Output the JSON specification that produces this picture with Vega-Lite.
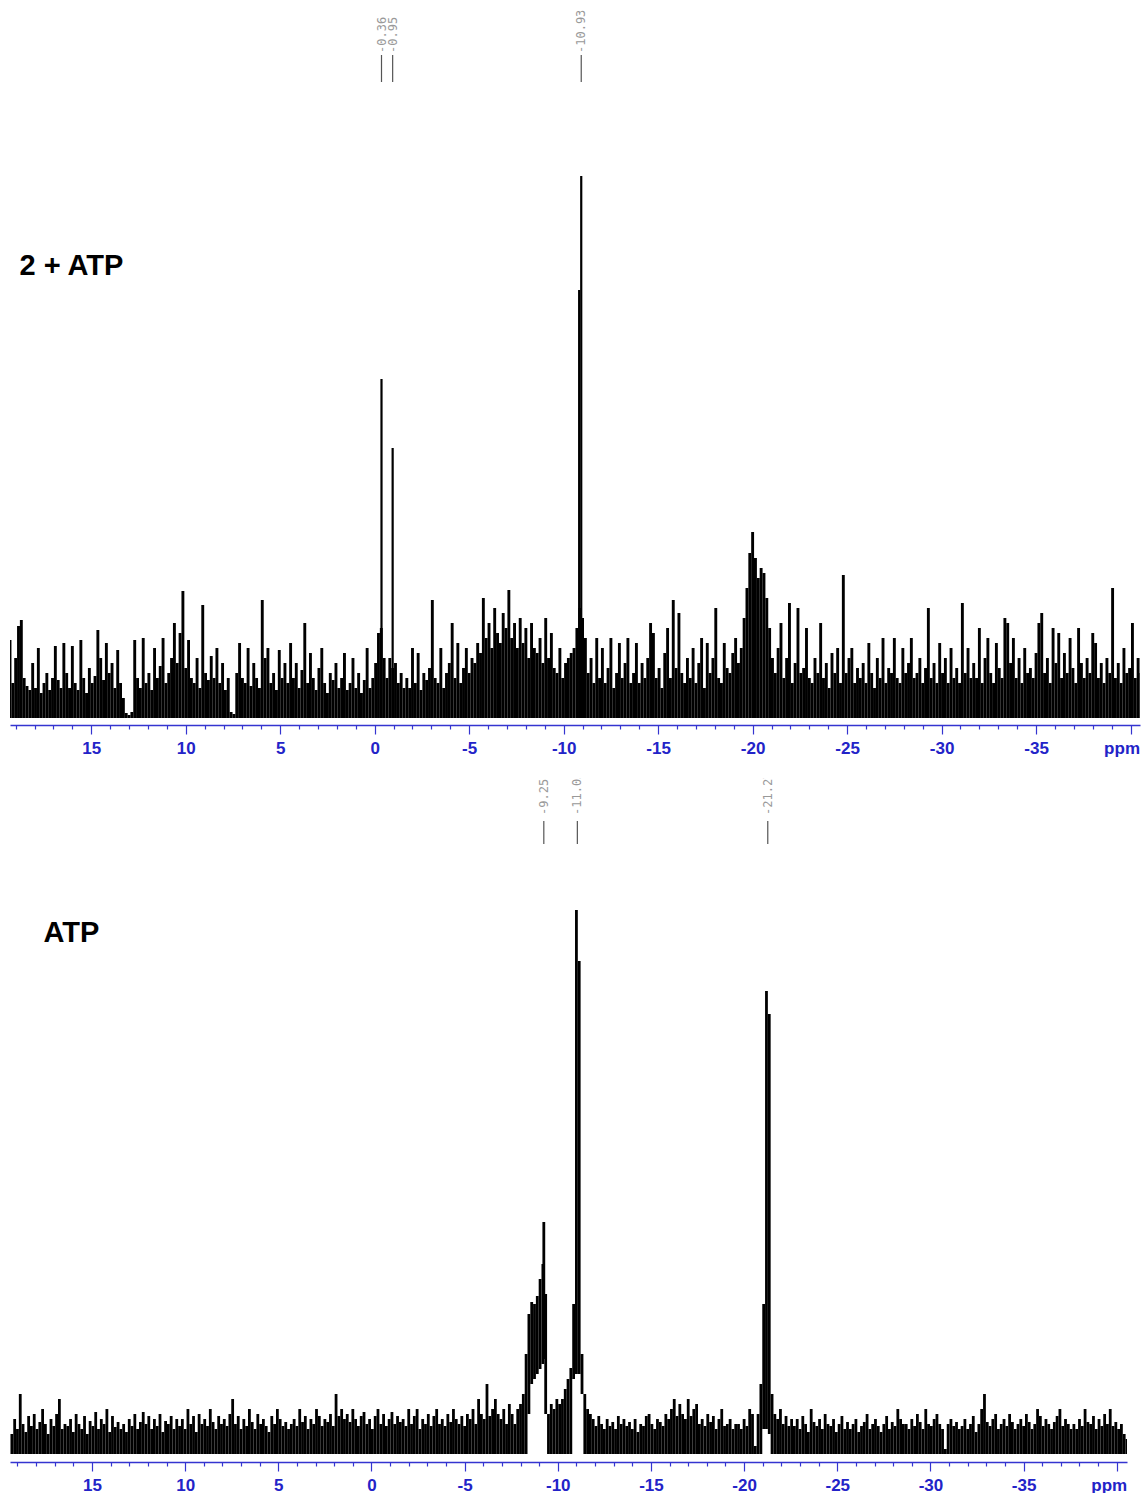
{
"$schema": "https://vega.github.io/schema/vega-lite/v6.json",
"background": "white",
"padding": {"left": 10, "top": 5, "right": 6, "bottom": 0},
"spacing": 22,
"config": {"view": {"stroke": null}},
"datasets": {
"spec": [
{"ppm":19.3,"a":78,"b":20},{"ppm":19.15,"a":35,"b":35},{"ppm":19,"a":60,"b":25},{"ppm":18.85,"a":92,"b":60},{"ppm":18.7,"a":98,"b":30},{"ppm":18.55,"a":40,"b":22},{"ppm":18.4,"a":32,"b":38},{"ppm":18.25,"a":28,"b":28},{"ppm":18.1,"a":55,"b":40},{"ppm":17.95,"a":30,"b":25},{"ppm":17.8,"a":70,"b":32},{"ppm":17.65,"a":25,"b":45},{"ppm":17.5,"a":35,"b":30},{"ppm":17.35,"a":45,"b":20},{"ppm":17.2,"a":28,"b":35},{"ppm":17.05,"a":40,"b":28},{"ppm":16.9,"a":72,"b":40},{"ppm":16.75,"a":38,"b":55},{"ppm":16.6,"a":30,"b":25},{"ppm":16.45,"a":75,"b":30},
{"ppm":16.3,"a":45,"b":28},{"ppm":16.15,"a":30,"b":35},{"ppm":16,"a":72,"b":22},{"ppm":15.85,"a":35,"b":40},{"ppm":15.7,"a":28,"b":30},{"ppm":15.55,"a":78,"b":25},{"ppm":15.4,"a":40,"b":38},{"ppm":15.25,"a":25,"b":20},{"ppm":15.1,"a":50,"b":33},{"ppm":14.95,"a":35,"b":28},{"ppm":14.8,"a":42,"b":42},{"ppm":14.65,"a":88,"b":25},{"ppm":14.5,"a":60,"b":35},{"ppm":14.35,"a":38,"b":30},{"ppm":14.2,"a":75,"b":45},{"ppm":14.05,"a":45,"b":22},{"ppm":13.9,"a":55,"b":38},{"ppm":13.75,"a":30,"b":27},{"ppm":13.6,"a":68,"b":32},{"ppm":13.45,"a":35,"b":25},
{"ppm":13.3,"a":20,"b":30},{"ppm":13.15,"a":5,"b":22},{"ppm":13,"a":3,"b":35},{"ppm":12.85,"a":6,"b":28},{"ppm":12.7,"a":78,"b":40},{"ppm":12.55,"a":40,"b":25},{"ppm":12.4,"a":30,"b":32},{"ppm":12.25,"a":80,"b":42},{"ppm":12.1,"a":35,"b":30},{"ppm":11.95,"a":45,"b":38},{"ppm":11.8,"a":28,"b":25},{"ppm":11.65,"a":70,"b":35},{"ppm":11.5,"a":40,"b":28},{"ppm":11.35,"a":52,"b":40},{"ppm":11.2,"a":80,"b":22},{"ppm":11.05,"a":35,"b":33},{"ppm":10.9,"a":45,"b":30},{"ppm":10.75,"a":60,"b":38},{"ppm":10.6,"a":95,"b":25},{"ppm":10.45,"a":55,"b":35},
{"ppm":10.3,"a":85,"b":28},{"ppm":10.15,"a":127,"b":35},{"ppm":10,"a":50,"b":25},{"ppm":9.85,"a":78,"b":45},{"ppm":9.7,"a":40,"b":30},{"ppm":9.55,"a":35,"b":38},{"ppm":9.4,"a":60,"b":22},{"ppm":9.25,"a":30,"b":40},{"ppm":9.1,"a":113,"b":30},{"ppm":8.95,"a":45,"b":35},{"ppm":8.8,"a":38,"b":28},{"ppm":8.65,"a":62,"b":45},{"ppm":8.5,"a":40,"b":32},{"ppm":8.35,"a":70,"b":25},{"ppm":8.2,"a":35,"b":38},{"ppm":8.05,"a":55,"b":30},{"ppm":7.9,"a":28,"b":35},{"ppm":7.75,"a":40,"b":28},{"ppm":7.6,"a":6,"b":40},{"ppm":7.45,"a":4,"b":55},
{"ppm":7.3,"a":45,"b":30},{"ppm":7.15,"a":75,"b":38},{"ppm":7,"a":40,"b":25},{"ppm":6.85,"a":35,"b":35},{"ppm":6.7,"a":70,"b":28},{"ppm":6.55,"a":32,"b":45},{"ppm":6.4,"a":55,"b":32},{"ppm":6.25,"a":40,"b":25},{"ppm":6.1,"a":30,"b":40},{"ppm":5.95,"a":118,"b":30},{"ppm":5.8,"a":60,"b":35},{"ppm":5.65,"a":70,"b":28},{"ppm":5.5,"a":35,"b":22},{"ppm":5.35,"a":45,"b":38},{"ppm":5.2,"a":28,"b":30},{"ppm":5.05,"a":68,"b":45},{"ppm":4.9,"a":40,"b":35},{"ppm":4.75,"a":55,"b":28},{"ppm":4.6,"a":35,"b":32},{"ppm":4.45,"a":75,"b":25},
{"ppm":4.3,"a":40,"b":30},{"ppm":4.15,"a":55,"b":35},{"ppm":4,"a":30,"b":28},{"ppm":3.85,"a":48,"b":45},{"ppm":3.7,"a":95,"b":32},{"ppm":3.55,"a":35,"b":38},{"ppm":3.4,"a":65,"b":25},{"ppm":3.25,"a":40,"b":35},{"ppm":3.1,"a":28,"b":30},{"ppm":2.95,"a":50,"b":45},{"ppm":2.8,"a":70,"b":38},{"ppm":2.65,"a":35,"b":28},{"ppm":2.5,"a":25,"b":35},{"ppm":2.35,"a":45,"b":32},{"ppm":2.2,"a":38,"b":40},{"ppm":2.05,"a":55,"b":28},{"ppm":1.9,"a":30,"b":60},{"ppm":1.75,"a":40,"b":38},{"ppm":1.6,"a":65,"b":45},{"ppm":1.45,"a":28,"b":35},
{"ppm":1.3,"a":35,"b":40},{"ppm":1.15,"a":60,"b":32},{"ppm":1,"a":30,"b":45},{"ppm":0.85,"a":45,"b":35},{"ppm":0.7,"a":25,"b":28},{"ppm":0.55,"a":38,"b":38},{"ppm":0.4,"a":70,"b":42},{"ppm":0.25,"a":30,"b":30},{"ppm":0.1,"a":40,"b":35},{"ppm":-0.05,"a":55,"b":25},{"ppm":-0.2,"a":85,"b":38},{"ppm":-0.35,"a":90,"b":45},{"ppm":-0.5,"a":60,"b":30},{"ppm":-0.65,"a":40,"b":40},{"ppm":-0.8,"a":60,"b":28},{"ppm":-0.95,"a":50,"b":35},{"ppm":-1.1,"a":55,"b":42},{"ppm":-1.25,"a":35,"b":30},{"ppm":-1.4,"a":45,"b":38},{"ppm":-1.55,"a":30,"b":32},
{"ppm":-1.7,"a":40,"b":35},{"ppm":-1.85,"a":30,"b":28},{"ppm":-2,"a":70,"b":45},{"ppm":-2.15,"a":35,"b":30},{"ppm":-2.3,"a":65,"b":38},{"ppm":-2.45,"a":28,"b":45},{"ppm":-2.6,"a":45,"b":25},{"ppm":-2.75,"a":38,"b":35},{"ppm":-2.9,"a":50,"b":30},{"ppm":-3.05,"a":118,"b":40},{"ppm":-3.2,"a":40,"b":28},{"ppm":-3.35,"a":35,"b":38},{"ppm":-3.5,"a":70,"b":45},{"ppm":-3.65,"a":30,"b":30},{"ppm":-3.8,"a":45,"b":35},{"ppm":-3.95,"a":55,"b":28},{"ppm":-4.1,"a":95,"b":40},{"ppm":-4.25,"a":40,"b":32},{"ppm":-4.4,"a":75,"b":45},{"ppm":-4.55,"a":35,"b":35},
{"ppm":-4.7,"a":50,"b":30},{"ppm":-4.85,"a":70,"b":38},{"ppm":-5,"a":45,"b":28},{"ppm":-5.15,"a":60,"b":40},{"ppm":-5.3,"a":55,"b":35},{"ppm":-5.45,"a":75,"b":45},{"ppm":-5.6,"a":65,"b":30},{"ppm":-5.75,"a":120,"b":55},{"ppm":-5.9,"a":80,"b":40},{"ppm":-6.05,"a":95,"b":35},{"ppm":-6.2,"a":70,"b":70},{"ppm":-6.35,"a":110,"b":38},{"ppm":-6.5,"a":85,"b":45},{"ppm":-6.65,"a":75,"b":55},{"ppm":-6.8,"a":105,"b":40},{"ppm":-6.95,"a":90,"b":35},{"ppm":-7.1,"a":128,"b":45},{"ppm":-7.25,"a":80,"b":30},{"ppm":-7.4,"a":95,"b":50},{"ppm":-7.55,"a":70,"b":40},
{"ppm":-7.7,"a":100,"b":30},{"ppm":-7.85,"a":75,"b":45},{"ppm":-8,"a":90,"b":50},{"ppm":-8.15,"a":60,"b":60},{"ppm":-8.3,"a":95,"b":null},{"ppm":-8.45,"a":70,"b":null},{"ppm":-8.6,"a":65,"b":null},{"ppm":-8.75,"a":80,"b":null},{"ppm":-8.9,"a":55,"b":null},{"ppm":-9.05,"a":100,"b":null},{"ppm":-9.2,"a":60,"b":null},{"ppm":-9.35,"a":85,"b":null},{"ppm":-9.5,"a":50,"b":null},{"ppm":-9.65,"a":45,"b":50},{"ppm":-9.8,"a":70,"b":45},{"ppm":-9.95,"a":40,"b":55},{"ppm":-10.1,"a":55,"b":50},{"ppm":-10.25,"a":60,"b":55},{"ppm":-10.4,"a":65,"b":65},{"ppm":-10.55,"a":70,"b":75},
{"ppm":-10.7,"a":90,"b":null},{"ppm":-10.85,"a":110,"b":null},{"ppm":-11,"a":100,"b":null},{"ppm":-11.15,"a":80,"b":null},{"ppm":-11.3,"a":45,"b":null},{"ppm":-11.45,"a":60,"b":null},{"ppm":-11.6,"a":35,"b":45},{"ppm":-11.75,"a":80,"b":40},{"ppm":-11.9,"a":40,"b":35},{"ppm":-12.05,"a":70,"b":28},{"ppm":-12.2,"a":35,"b":38},{"ppm":-12.35,"a":50,"b":30},{"ppm":-12.5,"a":80,"b":25},{"ppm":-12.65,"a":30,"b":35},{"ppm":-12.8,"a":45,"b":28},{"ppm":-12.95,"a":75,"b":32},{"ppm":-13.1,"a":40,"b":25},{"ppm":-13.25,"a":55,"b":38},{"ppm":-13.4,"a":80,"b":30},{"ppm":-13.55,"a":35,"b":35},
{"ppm":-13.7,"a":45,"b":28},{"ppm":-13.85,"a":75,"b":32},{"ppm":-14,"a":35,"b":25},{"ppm":-14.15,"a":55,"b":35},{"ppm":-14.3,"a":40,"b":22},{"ppm":-14.45,"a":60,"b":30},{"ppm":-14.6,"a":95,"b":28},{"ppm":-14.75,"a":85,"b":38},{"ppm":-14.9,"a":40,"b":40},{"ppm":-15.05,"a":50,"b":30},{"ppm":-15.2,"a":30,"b":25},{"ppm":-15.35,"a":65,"b":35},{"ppm":-15.5,"a":90,"b":32},{"ppm":-15.65,"a":40,"b":28},{"ppm":-15.8,"a":118,"b":40},{"ppm":-15.95,"a":50,"b":35},{"ppm":-16.1,"a":105,"b":45},{"ppm":-16.25,"a":45,"b":55},{"ppm":-16.4,"a":35,"b":38},{"ppm":-16.55,"a":60,"b":50},
{"ppm":-16.7,"a":40,"b":40},{"ppm":-16.85,"a":70,"b":35},{"ppm":-17,"a":35,"b":55},{"ppm":-17.15,"a":55,"b":38},{"ppm":-17.3,"a":80,"b":45},{"ppm":-17.45,"a":30,"b":50},{"ppm":-17.6,"a":75,"b":30},{"ppm":-17.75,"a":45,"b":35},{"ppm":-17.9,"a":60,"b":28},{"ppm":-18.05,"a":110,"b":40},{"ppm":-18.2,"a":40,"b":32},{"ppm":-18.35,"a":35,"b":38},{"ppm":-18.5,"a":75,"b":25},{"ppm":-18.65,"a":50,"b":35},{"ppm":-18.8,"a":45,"b":45},{"ppm":-18.95,"a":65,"b":28},{"ppm":-19.1,"a":80,"b":30},{"ppm":-19.25,"a":55,"b":35},{"ppm":-19.4,"a":70,"b":25},{"ppm":-19.55,"a":100,"b":30},
{"ppm":-19.7,"a":130,"b":30},{"ppm":-19.85,"a":165,"b":25},{"ppm":-20,"a":186,"b":35},{"ppm":-20.15,"a":160,"b":28},{"ppm":-20.3,"a":140,"b":45},{"ppm":-20.45,"a":150,"b":40},{"ppm":-20.6,"a":145,"b":8},{"ppm":-20.75,"a":120,"b":40},{"ppm":-20.9,"a":90,"b":null},{"ppm":-21.05,"a":60,"b":null},{"ppm":-21.2,"a":45,"b":null},{"ppm":-21.35,"a":70,"b":null},{"ppm":-21.5,"a":95,"b":null},{"ppm":-21.65,"a":40,"b":40},{"ppm":-21.8,"a":60,"b":35},{"ppm":-21.95,"a":115,"b":45},{"ppm":-22.1,"a":35,"b":30},{"ppm":-22.25,"a":55,"b":38},{"ppm":-22.4,"a":110,"b":28},{"ppm":-22.55,"a":45,"b":35},
{"ppm":-22.7,"a":50,"b":28},{"ppm":-22.85,"a":90,"b":35},{"ppm":-23,"a":40,"b":25},{"ppm":-23.15,"a":35,"b":38},{"ppm":-23.3,"a":60,"b":30},{"ppm":-23.45,"a":45,"b":22},{"ppm":-23.6,"a":95,"b":45},{"ppm":-23.75,"a":40,"b":32},{"ppm":-23.9,"a":55,"b":28},{"ppm":-24.05,"a":30,"b":35},{"ppm":-24.2,"a":65,"b":25},{"ppm":-24.35,"a":45,"b":40},{"ppm":-24.5,"a":70,"b":30},{"ppm":-24.65,"a":35,"b":28},{"ppm":-24.8,"a":143,"b":35},{"ppm":-24.95,"a":45,"b":22},{"ppm":-25.1,"a":60,"b":30},{"ppm":-25.25,"a":70,"b":38},{"ppm":-25.4,"a":35,"b":25},{"ppm":-25.55,"a":50,"b":32},
{"ppm":-25.7,"a":40,"b":25},{"ppm":-25.85,"a":55,"b":30},{"ppm":-26,"a":35,"b":35},{"ppm":-26.15,"a":75,"b":22},{"ppm":-26.3,"a":45,"b":28},{"ppm":-26.45,"a":30,"b":32},{"ppm":-26.6,"a":60,"b":40},{"ppm":-26.75,"a":40,"b":25},{"ppm":-26.9,"a":80,"b":30},{"ppm":-27.05,"a":35,"b":35},{"ppm":-27.2,"a":50,"b":28},{"ppm":-27.35,"a":45,"b":22},{"ppm":-27.5,"a":80,"b":30},{"ppm":-27.65,"a":40,"b":38},{"ppm":-27.8,"a":35,"b":25},{"ppm":-27.95,"a":70,"b":32},{"ppm":-28.1,"a":45,"b":28},{"ppm":-28.25,"a":55,"b":45},{"ppm":-28.4,"a":80,"b":35},{"ppm":-28.55,"a":40,"b":30},
{"ppm":-28.7,"a":45,"b":30},{"ppm":-28.85,"a":60,"b":25},{"ppm":-29,"a":35,"b":35},{"ppm":-29.15,"a":50,"b":28},{"ppm":-29.3,"a":110,"b":40},{"ppm":-29.45,"a":40,"b":32},{"ppm":-29.6,"a":55,"b":25},{"ppm":-29.75,"a":35,"b":45},{"ppm":-29.9,"a":75,"b":30},{"ppm":-30.05,"a":45,"b":28},{"ppm":-30.2,"a":60,"b":35},{"ppm":-30.35,"a":35,"b":40},{"ppm":-30.5,"a":70,"b":30},{"ppm":-30.65,"a":40,"b":25},{"ppm":-30.8,"a":50,"b":5},{"ppm":-30.95,"a":35,"b":30},{"ppm":-31.1,"a":115,"b":35},{"ppm":-31.25,"a":45,"b":28},{"ppm":-31.4,"a":70,"b":32},{"ppm":-31.55,"a":40,"b":25},
{"ppm":-31.7,"a":55,"b":28},{"ppm":-31.85,"a":40,"b":35},{"ppm":-32,"a":90,"b":25},{"ppm":-32.15,"a":35,"b":30},{"ppm":-32.3,"a":60,"b":38},{"ppm":-32.45,"a":80,"b":22},{"ppm":-32.6,"a":45,"b":30},{"ppm":-32.75,"a":35,"b":45},{"ppm":-32.9,"a":75,"b":60},{"ppm":-33.05,"a":50,"b":32},{"ppm":-33.2,"a":40,"b":28},{"ppm":-33.35,"a":100,"b":35},{"ppm":-33.5,"a":95,"b":40},{"ppm":-33.65,"a":55,"b":25},{"ppm":-33.8,"a":80,"b":30},{"ppm":-33.95,"a":40,"b":35},{"ppm":-34.1,"a":60,"b":28},{"ppm":-34.25,"a":35,"b":40},{"ppm":-34.4,"a":70,"b":32},{"ppm":-34.55,"a":45,"b":25},
{"ppm":-34.7,"a":50,"b":30},{"ppm":-34.85,"a":40,"b":35},{"ppm":-35,"a":65,"b":28},{"ppm":-35.15,"a":95,"b":40},{"ppm":-35.3,"a":105,"b":32},{"ppm":-35.45,"a":45,"b":25},{"ppm":-35.6,"a":60,"b":30},{"ppm":-35.75,"a":35,"b":45},{"ppm":-35.9,"a":90,"b":38},{"ppm":-36.05,"a":55,"b":28},{"ppm":-36.2,"a":85,"b":35},{"ppm":-36.35,"a":40,"b":30},{"ppm":-36.5,"a":65,"b":25},{"ppm":-36.65,"a":45,"b":32},{"ppm":-36.8,"a":80,"b":38},{"ppm":-36.95,"a":50,"b":45},{"ppm":-37.1,"a":35,"b":28},{"ppm":-37.25,"a":90,"b":35},{"ppm":-37.4,"a":55,"b":30},{"ppm":-37.55,"a":40,"b":25},
{"ppm":-37.7,"a":60,"b":30},{"ppm":-37.85,"a":45,"b":25},{"ppm":-38,"a":85,"b":35},{"ppm":-38.15,"a":75,"b":28},{"ppm":-38.3,"a":40,"b":45},{"ppm":-38.45,"a":55,"b":32},{"ppm":-38.6,"a":35,"b":30},{"ppm":-38.75,"a":60,"b":38},{"ppm":-38.9,"a":45,"b":25},{"ppm":-39.05,"a":130,"b":35},{"ppm":-39.2,"a":40,"b":28},{"ppm":-39.35,"a":55,"b":40},{"ppm":-39.5,"a":35,"b":30},{"ppm":-39.65,"a":70,"b":45},{"ppm":-39.8,"a":45,"b":28},{"ppm":-39.95,"a":50,"b":32},{"ppm":-40.1,"a":95,"b":25},{"ppm":-40.25,"a":40,"b":30},{"ppm":-40.4,"a":60,"b":20},{"ppm":-40.55,"a":45,"b":15}
],
"peaksA": [
{"ppm":-0.36,"lo":0,"hi":339},{"ppm":-0.95,"lo":0,"hi":270},{"ppm":-10.82,"lo":0,"hi":428},{"ppm":-10.93,"lo":0,"hi":542}
],
"peaksB": [
{"ppm":-8.3,"lo":0,"hi":100},{"ppm":-8.45,"lo":40,"hi":140},{"ppm":-8.6,"lo":70,"hi":152},{"ppm":-8.75,"lo":75,"hi":150},{"ppm":-8.9,"lo":80,"hi":158},{"ppm":-9.05,"lo":85,"hi":175},{"ppm":-9.2,"lo":90,"hi":190},{"ppm":-9.25,"lo":95,"hi":232},{"ppm":-9.35,"lo":40,"hi":160},{"ppm":-9.5,"lo":0,"hi":40},
{"ppm":-10.7,"lo":0,"hi":86},{"ppm":-10.85,"lo":75,"hi":150},{"ppm":-11,"lo":80,"hi":544},{"ppm":-11.15,"lo":80,"hi":493},{"ppm":-11.3,"lo":60,"hi":100},{"ppm":-11.45,"lo":0,"hi":60},
{"ppm":-20.9,"lo":0,"hi":70},{"ppm":-21.05,"lo":25,"hi":150},{"ppm":-21.2,"lo":25,"hi":463},{"ppm":-21.35,"lo":20,"hi":440},{"ppm":-21.5,"lo":0,"hi":60}
],
"labelsA": [
{"ppm":-0.36,"label":"-0.36"},{"ppm":-0.95,"label":"-0.95"},{"ppm":-10.93,"label":"-10.93"}
],
"labelsB": [
{"ppm":-9.25,"label":"-9.25"},{"ppm":-11.05,"label":"-11.05"},{"ppm":-21.27,"label":"-21.27"}
],
"titleA": [{"t": "2 + ATP", "ppm": 18.8, "yv": 452}],
"titleB": [{"t": "ATP", "ppm": 17.6, "yv": 521}]
},
"vconcat": [
{
"width": 1130, "height": 720,
"layer": [
{"data": {"name": "spec"},
 "mark": {"type": "rule", "strokeWidth": 2.9, "color": "#000000", "clip": true},
 "encoding": {
  "x": {"field": "ppm", "type": "quantitative", "scale": {"domain": [19.3, -40.5], "nice": false, "zero": false},
   "axis": {"values": [19,18,17,16,15,14,13,12,11,10,9,8,7,6,5,4,3,2,1,0,-1,-2,-3,-4,-5,-6,-7,-8,-9,-10,-11,-12,-13,-14,-15,-16,-17,-18,-19,-20,-21,-22,-23,-24,-25,-26,-27,-28,-29,-30,-31,-32,-33,-34,-35,-36,-37,-38,-39,-40],
    "tickCount": 200,
    "title": null, "grid": false,
    "tickSize": {"condition": {"test": "datum.value % 5 === 0", "value": 9}, "value": 4},
    "labelOffset": {"condition": {"test": "datum.value === -40", "value": -9}, "value": 0},
    "labelExpr": "datum.value === -40 ? 'ppm' : (datum.value % 5 === 0 ? '' + datum.value : '')",
    "labelFlush": false, "labelOverlap": false, "labelBound": false,
    "labelFont": "Liberation Sans", "labelFontWeight": "bold", "labelFontSize": 17, "labelColor": "#2323c8", "labelPadding": 6,
    "domainColor": "#3434d0", "domainWidth": 1.5, "tickColor": "#3434d0", "tickWidth": 1.2}},
  "y": {"field": "a", "type": "quantitative", "scale": {"domain": [-7, 713], "nice": false, "zero": false}, "axis": null},
  "y2": {"datum": 0}
 }},
{"data": {"name": "peaksA"},
 "mark": {"type": "rule", "strokeWidth": 2.2, "color": "#000000", "clip": true},
 "encoding": {"x": {"field": "ppm", "type": "quantitative"}, "y": {"field": "hi", "type": "quantitative"}, "y2": {"field": "lo"}}},
{"data": {"name": "labelsA"},
 "mark": {"type": "rule", "strokeWidth": 1.2, "color": "#555555"},
 "encoding": {"x": {"field": "ppm", "type": "quantitative"}, "y": {"datum": 636, "type": "quantitative"}, "y2": {"datum": 663}}},
{"data": {"name": "labelsA"},
 "mark": {"type": "text", "angle": 270, "align": "left", "baseline": "middle", "font": "DejaVu Sans Mono", "fontSize": 12, "color": "#999999", "clip": true},
 "encoding": {"x": {"field": "ppm", "type": "quantitative"}, "y": {"datum": 665, "type": "quantitative"}, "text": {"field": "label", "type": "nominal"}}},
{"data": {"name": "titleA"},
 "mark": {"type": "text", "align": "left", "baseline": "middle", "font": "Liberation Sans", "fontWeight": "bold", "fontSize": 29, "color": "#000000"},
 "encoding": {"x": {"field": "ppm", "type": "quantitative"}, "y": {"field": "yv", "type": "quantitative"}, "text": {"field": "t", "type": "nominal"}}}
]
},
{
"width": 1117, "height": 684,
"layer": [
{"data": {"name": "spec"},
 "mark": {"type": "rule", "strokeWidth": 2.8, "color": "#000000", "clip": true},
 "encoding": {
  "x": {"field": "ppm", "type": "quantitative", "scale": {"domain": [19.4, -40.55], "nice": false, "zero": false},
   "axis": {"values": [19,18,17,16,15,14,13,12,11,10,9,8,7,6,5,4,3,2,1,0,-1,-2,-3,-4,-5,-6,-7,-8,-9,-10,-11,-12,-13,-14,-15,-16,-17,-18,-19,-20,-21,-22,-23,-24,-25,-26,-27,-28,-29,-30,-31,-32,-33,-34,-35,-36,-37,-38,-39,-40],
    "tickCount": 200,
    "title": null, "grid": false,
    "tickSize": {"condition": {"test": "datum.value % 5 === 0", "value": 9}, "value": 4},
    "labelOffset": {"condition": {"test": "datum.value === -40", "value": -8}, "value": 0},
    "labelExpr": "datum.value === -40 ? 'ppm' : (datum.value % 5 === 0 ? '' + datum.value : '')",
    "labelFlush": false, "labelOverlap": false, "labelBound": false,
    "labelFont": "Liberation Sans", "labelFontWeight": "bold", "labelFontSize": 17, "labelColor": "#2323c8", "labelPadding": 6,
    "domainColor": "#3434d0", "domainWidth": 1.5, "tickColor": "#3434d0", "tickWidth": 1.2}},
  "y": {"field": "b", "type": "quantitative", "scale": {"domain": [-8, 676], "nice": false, "zero": false}, "axis": null},
  "y2": {"datum": 0}
 }},
{"data": {"name": "peaksB"},
 "mark": {"type": "rule", "strokeWidth": 2.8, "color": "#000000", "clip": true},
 "encoding": {"x": {"field": "ppm", "type": "quantitative"}, "y": {"field": "hi", "type": "quantitative"}, "y2": {"field": "lo"}}},
{"data": {"name": "labelsB"},
 "mark": {"type": "rule", "strokeWidth": 1.2, "color": "#555555"},
 "encoding": {"x": {"field": "ppm", "type": "quantitative"}, "y": {"datum": 610, "type": "quantitative"}, "y2": {"datum": 633}}},
{"data": {"name": "labelsB"},
 "mark": {"type": "text", "angle": 270, "align": "left", "baseline": "middle", "font": "DejaVu Sans Mono", "fontSize": 12, "color": "#999999", "clip": true},
 "encoding": {"x": {"field": "ppm", "type": "quantitative"}, "y": {"datum": 639, "type": "quantitative"}, "text": {"field": "label", "type": "nominal"}}},
{"data": {"name": "titleB"},
 "mark": {"type": "text", "align": "left", "baseline": "middle", "font": "Liberation Sans", "fontWeight": "bold", "fontSize": 29, "color": "#000000"},
 "encoding": {"x": {"field": "ppm", "type": "quantitative"}, "y": {"field": "yv", "type": "quantitative"}, "text": {"field": "t", "type": "nominal"}}}
]
}
]
}
